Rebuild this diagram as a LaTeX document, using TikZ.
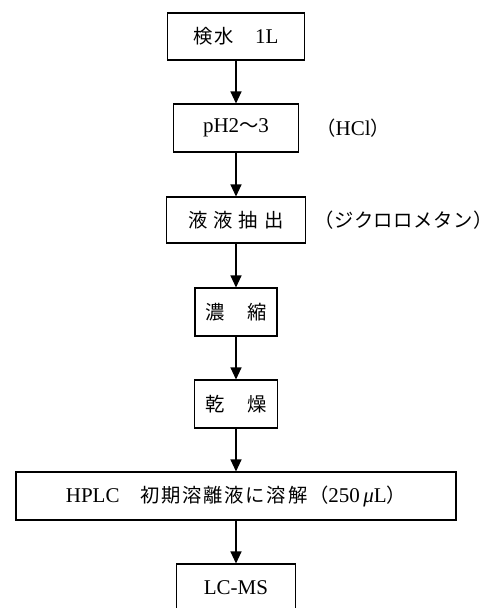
\documentclass[tikz,border=0pt]{standalone}
\usepackage{fontspec}
\setmainfont{Liberation Serif}
\newfontfamily\jp{Noto Sans CJK JP}[Scale=0.92,LetterSpace=9]
\newfontfamily\jpn{Noto Sans CJK JP}[Scale=0.92,LetterSpace=3]
\usetikzlibrary{arrows.meta}
\begin{document}
\begin{tikzpicture}[x=0.75pt,y=-0.75pt,
  box/.style={draw=black,line width=0.8pt,inner sep=0pt,minimum height={48*0.75pt},font=\fontsize{15.75pt}{18pt}\selectfont},
  lbl/.style={inner sep=0pt,anchor=west,font=\fontsize{15.75pt}{18pt}\selectfont},
  arr/.style={line width=0.8pt,-{Triangle[width=8.25pt,length=9pt]}}]
\useasboundingbox (0,0) rectangle (502,608);
\node[box,minimum width={137*0.75pt},minimum height={47*0.75pt}] (n1) at (236,36.5) {{\jp 検水　}1L};
\node[box,minimum width={125*0.75pt}] (n2) at (236,128) {pH2{\jp ～}3};
\node[lbl] (l2) at (316,128) {{\jp （}HCl{\jp ）}};
\node[lbl] (l3) at (314,220) {\jpn （ジクロロメタン）};
\node[box,minimum width={139*0.75pt},minimum height={46*0.75pt}] (n3) at (236,220) {\jp 液\hspace{4.5pt}液\hspace{4.5pt}抽\hspace{4.5pt}出};
\node[box,minimum width={82*0.75pt}] (n4) at (236,312) {\jp 濃　縮};
\node[box,minimum width={83*0.75pt}] (n5) at (236,404) {\jp 乾　燥};
\node[box,minimum width={440*0.75pt}] (n6) at (236,496) {HPLC{\jp 　初期溶離液に溶解（}250\,\textit{μ}L{\jp ）}};
\node[box,minimum width={119*0.75pt},minimum height={47*0.75pt}] (n7) at (236,587.5) {LC-MS};
\draw[arr] (n1.south) -- (n2.north);
\draw[arr] (n2.south) -- (n3.north);
\draw[arr] (n3.south) -- (n4.north);
\draw[arr] (n4.south) -- (n5.north);
\draw[arr] (n5.south) -- (n6.north);
\draw[arr] (n6.south) -- (n7.north);
\end{tikzpicture}
\end{document}
